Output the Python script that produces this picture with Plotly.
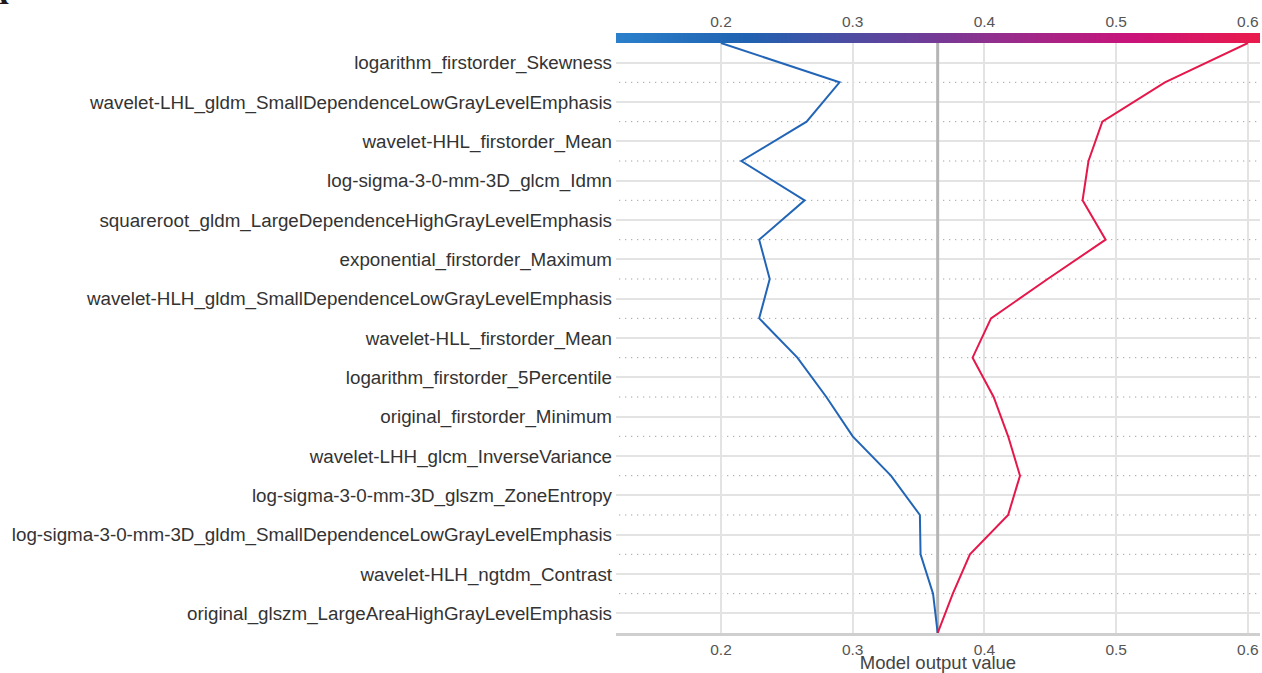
import numpy as np
import plotly.graph_objects as go

# Features, bottom (0) to top (14)
features = [
    "original_glszm_LargeAreaHighGrayLevelEmphasis",
    "wavelet-HLH_ngtdm_Contrast",
    "log-sigma-3-0-mm-3D_gldm_SmallDependenceLowGrayLevelEmphasis",
    "log-sigma-3-0-mm-3D_glszm_ZoneEntropy",
    "wavelet-LHH_glcm_InverseVariance",
    "original_firstorder_Minimum",
    "logarithm_firstorder_5Percentile",
    "wavelet-HLL_firstorder_Mean",
    "wavelet-HLH_gldm_SmallDependenceLowGrayLevelEmphasis",
    "exponential_firstorder_Maximum",
    "squareroot_gldm_LargeDependenceHighGrayLevelEmphasis",
    "log-sigma-3-0-mm-3D_glcm_Idmn",
    "wavelet-HHL_firstorder_Mean",
    "wavelet-LHL_gldm_SmallDependenceLowGrayLevelEmphasis",
    "logarithm_firstorder_Skewness",
]

base_value = 0.3645
# cumulative model output at y = -0.5, 0.5, ..., 14.5
sample_low = [0.3645, 0.361, 0.3515, 0.351, 0.329, 0.300, 0.280, 0.258,
              0.229, 0.237, 0.229, 0.2635, 0.2155, 0.265, 0.290, 0.200]
sample_high = [0.3645, 0.376, 0.389, 0.418, 0.427, 0.418, 0.407, 0.391,
               0.405, 0.448, 0.492, 0.4745, 0.479, 0.4895, 0.537, 0.600]

x_ticks = [0.2, 0.3, 0.4, 0.5, 0.6]
x_range = [0.1203, 0.6092]

n = len(features)
y_pts = [i - 0.5 for i in range(n + 1)]

fig = go.Figure()

color_scale = [
    [0.0, "#2b80cb"],
    [0.2, "#1f62b1"],
    [0.45, "#66409a"],
    [0.6, "#952d8c"],
    [0.8, "#c9137a"],
    [1.0, "#ea1b4b"],
]

# colour bar along the top
grad = np.linspace(x_range[0], x_range[1], 300)
fig.add_trace(go.Heatmap(
    x=grad, y=[0], z=[grad], colorscale=color_scale, showscale=False,
    xaxis="x2", yaxis="y2", hoverinfo="skip", zsmooth="best",
))

fig.add_trace(go.Scatter(
    x=sample_low, y=y_pts, mode="lines",
    line=dict(color="#2265b6", width=2), showlegend=False,
))
fig.add_trace(go.Scatter(
    x=sample_high, y=y_pts, mode="lines",
    line=dict(color="#e5174b", width=2), showlegend=False,
))

shapes = []
for i in range(n - 1):
    shapes.append(dict(
        type="line", xref="paper", yref="y", x0=0.005, x1=1.0,
        y0=i + 0.5, y1=i + 0.5, layer="between",
        line=dict(color="#8a8a8a", width=1, dash="1px,5px"),
    ))
shapes.append(dict(
    type="line", xref="x", yref="y", x0=base_value, x1=base_value,
    y0=-0.5, y1=n - 0.5, layer="between",
    line=dict(color="#b5b5b5", width=3),
))

W, H = 1262, 673
ML, MR, MT, MB = 616, 2, 33, 40
plot_h = H - MT - MB  # 600
main_top = (plot_h - 10) / plot_h
plot_w = W - ML - MR

fig.update_layout(
    width=W, height=H,
    margin=dict(l=ML, r=MR, t=MT, b=MB, autoexpand=False),
    paper_bgcolor="white", plot_bgcolor="white",
    font=dict(family="Liberation Sans, Arial, sans-serif", color="#333333"),
    showlegend=False,
    hovermode=False,
    shapes=shapes,
    xaxis=dict(
        range=x_range, tickvals=x_ticks, ticktext=[str(t) for t in x_ticks],
        showgrid=True, gridcolor="#e3e3e3", gridwidth=2,
        zeroline=False, showline=True, linecolor="#cfcfcf", linewidth=3,
        ticks="", tickfont=dict(size=15.5, color="#555555"),
        ticklabeloverflow="allow", automargin=False,
        title=dict(text="Model output value", font=dict(size=18.5, color="#444444"), standoff=0),
        anchor="y", domain=[0, 1],
    ),
    yaxis=dict(
        range=[-0.5, n - 0.5], tickvals=list(range(n)), ticktext=features,
        showgrid=True, gridcolor="#e3e3e3", gridwidth=2,
        zeroline=False, showline=False, ticks="", automargin=False,
        ticklabelstandoff=3,
        tickfont=dict(size=18.8, color="#333333"),
        domain=[0, main_top], anchor="x",
    ),
    xaxis2=dict(
        range=x_range, tickvals=x_ticks, ticktext=[str(t) for t in x_ticks],
        side="top", anchor="y2", showgrid=False, zeroline=False,
        showline=False, ticks="", tickfont=dict(size=15.5, color="#555555"),
        ticklabeloverflow="allow", automargin=False, ticklabelstandoff=2,
        domain=[0, 1],
    ),
    yaxis2=dict(
        domain=[main_top, 1.0], anchor="x2", showticklabels=False,
        showgrid=False, zeroline=False, range=[-0.5, 0.5], automargin=False,
    ),
    annotations=[dict(
        text="<b>A</b>", xref="paper", yref="paper",
        x=(11 - ML) / plot_w, y=1 + (MT - 12) / plot_h,
        xanchor="right", yanchor="bottom", showarrow=False,
        font=dict(family="Liberation Serif, serif", size=30, color="#231815"),
    )],
)

fig.write_html(
    "out.html",
    config={"displayModeBar": False, "staticPlot": True},
    post_script="document.body.style.margin='0';document.body.style.overflow='hidden';",
)
